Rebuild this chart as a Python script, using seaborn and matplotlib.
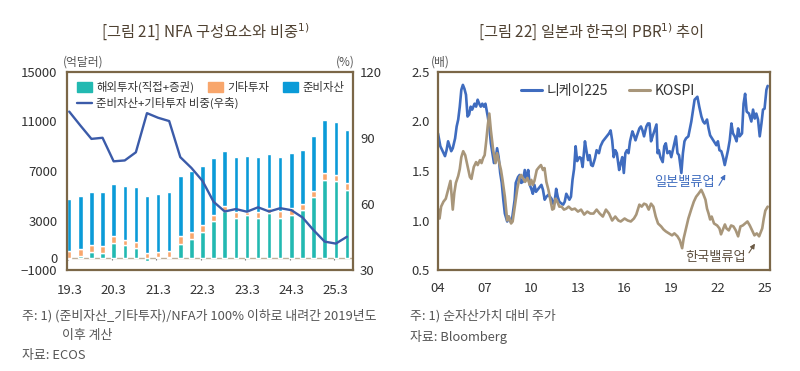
import matplotlib
matplotlib.use("Agg")
import matplotlib.pyplot as plt
import numpy as np
import seaborn as sns
from matplotlib.lines import Line2D
from matplotlib.patches import Patch


# [그림 21] 분기별 NFA 구성요소 (억달러) 와 비중 (%)
quarters = ["19.3", "19.6", "19.9", "19.12", "20.3", "20.6", "20.9", "20.12",
            "21.3", "21.6", "21.9", "21.12", "22.3", "22.6", "22.9", "22.12",
            "23.3", "23.6", "23.9", "23.12", "24.3", "24.6", "24.9", "24.12",
            "25.3", "25.6"]
overseas = [-150, 130, 430, 350, 1160, 1030, 810, -240, 80, 50, 1140, 1510, 2080,
            3000, 3780, 3240, 3430, 3220, 3590, 3190, 3460, 3860, 4890, 6240, 6190, 5490]
other_inv = [500, 570, 620, 600, 600, 400, 460, 350, 380, 520, 590, 600, 540,
             430, 410, 410, 220, 480, 440, 570, 510, 490, 520, 620, 490, 540]
reserves = [4230, 4250, 4250, 4320, 4210, 4330, 4430, 4650, 4650, 4750, 4860, 4860, 4810,
            4600, 4400, 4460, 4570, 4410, 4350, 4380, 4460, 4330, 4430, 4300, 4290, 4320]
share = [102.0, 95.7, 89.6, 90.1, 79.4, 79.8, 83.5, 101.3, 99.2, 97.7, 81.3, 76.4, 70.5,
         61.0, 56.6, 57.7, 56.5, 58.5, 56.6, 58.1, 57.2, 53.9, 48.1, 42.9, 42.0, 45.1]
quarter_ticks = ["19.3", "20.3", "21.3", "22.3", "23.3", "24.3", "25.3"]

# [그림 22] 일본과 한국의 PBR (배)
nikkei_years = [
    2004.0, 2004.15, 2004.3, 2004.45, 2004.55, 2004.65, 2004.75, 2004.85, 2004.95,
    2005.1, 2005.2, 2005.3, 2005.4, 2005.5, 2005.6, 2005.7, 2005.8, 2005.9,
    2006.0, 2006.1, 2006.2, 2006.35, 2006.45, 2006.55, 2006.65, 2006.75, 2006.85, 2006.95,
    2007.05, 2007.2, 2007.3, 2007.4, 2007.5, 2007.6, 2007.7, 2007.8, 2007.9,
    2008.0, 2008.1, 2008.2, 2008.3, 2008.45, 2008.55, 2008.65, 2008.75, 2008.93,
    2009.0, 2009.15, 2009.25, 2009.35, 2009.45, 2009.58, 2009.7, 2009.8, 2009.9,
    2010.0, 2010.1, 2010.2, 2010.3, 2010.4, 2010.55, 2010.65, 2010.75, 2010.86, 2010.97,
    2011.1, 2011.3, 2011.4, 2011.5, 2011.6, 2011.7, 2011.8, 2011.95,
    2012.05, 2012.15, 2012.25, 2012.45, 2012.55, 2012.65, 2012.75, 2012.85, 2012.95,
    2013.1, 2013.2, 2013.3, 2013.45, 2013.55, 2013.65, 2013.75, 2013.85, 2013.95,
    2014.1, 2014.2, 2014.35, 2014.45, 2014.6, 2014.75, 2014.85,
    2015.0, 2015.1, 2015.2, 2015.3, 2015.4, 2015.5, 2015.65, 2015.75, 2015.85, 2015.95,
    2016.05, 2016.15, 2016.25, 2016.35, 2016.5, 2016.6, 2016.7, 2016.8, 2016.95,
    2017.05, 2017.15, 2017.25, 2017.4, 2017.5, 2017.6, 2017.7, 2017.8, 2017.95,
    2018.05, 2018.12, 2018.2, 2018.3, 2018.45, 2018.55, 2018.65, 2018.75, 2018.9,
    2019.0, 2019.1, 2019.2, 2019.3, 2019.4, 2019.5, 2019.65, 2019.75, 2019.85, 2019.95,
    2020.1, 2020.29, 2020.5, 2020.68, 2020.8, 2020.94, 2021.05, 2021.15, 2021.3,
    2021.4, 2021.5, 2021.7, 2021.9, 2022.0, 2022.1, 2022.22, 2022.33, 2022.44,
    2022.55, 2022.65, 2022.76, 2022.87, 2022.97, 2023.08, 2023.2, 2023.3, 2023.4,
    2023.55, 2023.65, 2023.75, 2023.85, 2024.0, 2024.15, 2024.26, 2024.37, 2024.47,
    2024.58, 2024.69, 2024.8, 2024.9, 2025.0, 2025.12, 2025.2,
]
nikkei_pbr = [
    1.88, 1.75, 1.70, 1.65, 1.71, 1.80, 1.75, 1.70, 1.73,
    1.83, 1.95, 2.02, 2.15, 2.32, 2.37, 2.33, 2.27, 2.05,
    2.07, 2.15, 2.12, 2.18, 2.15, 2.22, 2.18, 2.15, 2.18, 2.15,
    2.18, 2.05, 1.95, 1.78, 1.68, 1.58, 1.61, 1.73, 1.64,
    1.48, 1.38, 1.21, 1.07, 0.99, 1.04, 0.99, 1.00, 1.21,
    1.38, 1.44, 1.46, 1.38, 1.39, 1.51, 1.41, 1.51, 1.36,
    1.32, 1.27, 1.36, 1.29, 1.31, 1.34, 1.36, 1.31, 1.21, 1.24,
    1.26, 1.22, 1.17, 1.19, 1.32, 1.24, 1.19, 1.17,
    1.16, 1.19, 1.27, 1.21, 1.24, 1.41, 1.52, 1.75, 1.60,
    1.64, 1.63, 1.54, 1.80, 1.70, 1.61, 1.66, 1.56, 1.55,
    1.63, 1.71, 1.68, 1.75, 1.80, 1.83, 1.85,
    1.88, 1.91, 1.81, 1.64, 1.71, 1.68, 1.51, 1.58, 1.64, 1.48,
    1.68, 1.71, 1.68, 1.80, 1.90, 1.86, 1.81, 1.86, 1.93,
    1.95, 1.91, 1.85, 1.95, 1.98, 1.98, 1.80, 1.85, 1.92,
    1.97, 1.68, 1.71, 1.64, 1.59, 1.75, 1.78, 1.68, 1.70,
    1.64, 1.71, 1.78, 1.85, 1.68, 1.66, 1.48, 1.68, 1.80, 1.83,
    1.85, 2.00, 2.22, 2.25, 2.15, 2.05, 2.00, 1.98, 2.02,
    1.93, 1.86, 1.81, 1.76, 1.80, 1.71, 1.70, 1.64, 1.56,
    1.64, 1.71, 1.81, 1.98, 1.88, 1.85, 1.80, 1.93, 1.85,
    1.88, 2.18, 2.28, 2.10, 2.08, 2.00, 2.12, 2.03, 2.08,
    2.02, 1.85, 1.98, 2.12, 2.13, 2.32, 2.36,
]

kospi_years = [
    2004.0, 2004.1, 2004.2, 2004.35, 2004.5, 2004.65, 2004.8, 2004.95,
    2005.05, 2005.15, 2005.3, 2005.4, 2005.5, 2005.62, 2005.75, 2005.9,
    2006.05, 2006.15, 2006.3, 2006.45, 2006.55, 2006.7, 2006.8, 2006.9,
    2007.0, 2007.1, 2007.2, 2007.3, 2007.4, 2007.55, 2007.7, 2007.8, 2007.95,
    2008.05, 2008.15, 2008.3, 2008.45, 2008.55, 2008.7, 2008.8, 2008.9,
    2009.0, 2009.1, 2009.25, 2009.35, 2009.45, 2009.6, 2009.75, 2009.9,
    2010.0, 2010.1, 2010.2, 2010.35, 2010.5, 2010.62, 2010.75, 2010.85, 2010.97,
    2011.1, 2011.25, 2011.35, 2011.45, 2011.55, 2011.65, 2011.8, 2011.95,
    2012.1, 2012.25, 2012.4, 2012.6, 2012.8, 2013.0, 2013.2, 2013.4, 2013.6, 2013.8,
    2014.0, 2014.2, 2014.4, 2014.6, 2014.8, 2015.0, 2015.2, 2015.4, 2015.6, 2015.75,
    2016.0, 2016.2, 2016.4, 2016.6, 2016.75, 2016.95, 2017.1, 2017.25, 2017.4,
    2017.55, 2017.7, 2017.85, 2018.0, 2018.15, 2018.35, 2018.5, 2018.65, 2018.85,
    2019.05, 2019.2, 2019.4, 2019.55, 2019.7, 2019.8, 2019.95,
    2020.1, 2020.2, 2020.3, 2020.45, 2020.6, 2020.75, 2020.93,
    2021.05, 2021.2, 2021.3, 2021.4, 2021.5, 2021.6, 2021.75, 2021.95,
    2022.1, 2022.2, 2022.3, 2022.45, 2022.55, 2022.7, 2022.85,
    2023.0, 2023.15, 2023.3, 2023.45, 2023.6, 2023.75, 2023.9,
    2024.05, 2024.2, 2024.35, 2024.5, 2024.65, 2024.75, 2024.85, 2024.95,
    2025.05, 2025.2,
]
kospi_pbr = [
    1.12, 1.02, 1.14, 1.19, 1.22, 1.31, 1.40, 1.11,
    1.28, 1.38, 1.45, 1.52, 1.64, 1.70, 1.66, 1.55,
    1.44, 1.42, 1.54, 1.59, 1.56, 1.61, 1.58, 1.63,
    1.66, 1.80, 1.96, 2.08, 1.91, 1.71, 1.58, 1.68, 1.58,
    1.51, 1.41, 1.24, 1.00, 1.04, 0.97, 0.99, 1.10,
    1.21, 1.32, 1.44, 1.46, 1.43, 1.39, 1.43, 1.36,
    1.41, 1.36, 1.40, 1.51, 1.54, 1.56, 1.51, 1.53, 1.39,
    1.31, 1.19, 1.11, 1.12, 1.22, 1.20, 1.14, 1.14,
    1.11, 1.12, 1.14, 1.11, 1.12, 1.09, 1.11, 1.06, 1.09, 1.07,
    1.07, 1.11, 1.07, 1.04, 1.11, 1.07, 1.00, 1.04, 1.00, 0.99,
    1.02, 1.00, 0.99, 1.02, 1.06, 1.16, 1.14, 1.17, 1.16,
    1.11, 1.17, 1.14, 1.04, 0.97, 0.94, 0.91, 0.89, 0.87,
    0.85, 0.87, 0.84, 0.80, 0.72, 0.82, 0.92,
    1.02, 1.07, 1.12, 1.19, 1.24, 1.27, 1.31,
    1.27, 1.21, 1.12, 1.07, 1.01, 1.04, 0.97, 0.95,
    0.92, 0.86, 0.90, 0.96, 0.92, 0.90, 0.95,
    0.94, 0.90, 0.84, 0.94, 0.95, 0.97, 0.99,
    0.95, 0.90, 0.85, 0.87, 0.84, 0.88, 0.92, 1.02,
    1.10, 1.14,
]
year_ticks = [2004, 2007, 2010, 2013, 2016, 2019, 2022, 2025]
year_labels = ["04", "07", "10", "13", "16", "19", "22", "25"]

TEAL = "#22b9b1"
ORANGE = "#f8a66c"
BLUE = "#0a9bd8"
SHARE_LINE = "#3b5ba9"
NIKKEI = "#3f6cbf"
KOSPI = "#a8967a"
FRAME = "#7b6748"
TITLE = "#4f4131"
TEXT = "#333333"
NOTE = "#555555"

sns.set_theme(style="white")
plt.rcParams["font.family"] = ["Noto Sans CJK KR", "DejaVu Sans"]
plt.rcParams["axes.unicode_minus"] = True

fig = plt.figure(figsize=(8, 3.71), dpi=100)
W, H = 800, 371


def px_box(x0, y0, x1, y1):
    """Converte caixa em pixels (origem no topo) para coordenadas da figura."""
    return [x0 / W, (H - y1) / H, (x1 - x0) / W, (y1 - y0) / H]


def style_frame(ax):
    for spine in ax.spines.values():
        spine.set_color(FRAME)
        spine.set_linewidth(1.6)


# ---------------- 그림 21 ----------------
ax1 = fig.add_axes(px_box(67, 72, 353, 270))
idx = np.arange(len(quarters))
overseas_arr = np.array(overseas)
other_arr = np.array(other_inv)
reserve_arr = np.array(reserves)
base = np.clip(overseas_arr, 0, None)
bar_w = 0.4

ax1.axhline(0, color="#bfb09a", linewidth=1.0, zorder=1)
ax1.bar(idx, overseas_arr, width=bar_w, color=TEAL, zorder=2)
ax1.bar(idx, other_arr, width=bar_w, bottom=base, color=ORANGE, zorder=2)
ax1.bar(idx, reserve_arr, width=bar_w, bottom=base + other_arr, color=BLUE, zorder=2)
ax1.vlines(idx[::4] - 0.15, -230, 0, color="#777777", linewidth=0.8, zorder=1)

ax1.set_xlim(-0.2, len(quarters) - 0.45)
ax1.set_ylim(-1000, 15000)
ax1.set_yticks([-1000, 0, 3000, 7000, 11000, 15000])
ax1.set_yticklabels(["\u22121000", "0", "3000", "7000", "11000", "15000"])
ax1.set_xticks(idx[::4])
ax1.set_xticklabels(quarter_ticks)
ax1.tick_params(axis="both", length=0, labelsize=9.5, colors=TEXT)
ax1.tick_params(axis="y", pad=7)
ax1.tick_params(axis="x", pad=10)
style_frame(ax1)

ax2 = ax1.twinx()
sns.lineplot(x=idx, y=share, ax=ax2, color=SHARE_LINE, linewidth=1.7, legend=False, zorder=3)
ax2.set_ylim(30, 120)
ax2.set_yticks([30, 60, 90, 120])
ax2.tick_params(axis="y", length=0, labelsize=9.5, colors=TEXT, pad=5)
ax2.set_ylabel("")
for spine in ax2.spines.values():
    spine.set_visible(False)

fig.text(83 / W, 1 - 62 / H, "(억달러)", ha="center", va="center", fontsize=8.5, color=NOTE)
fig.text(345 / W, 1 - 62 / H, "(%)", ha="center", va="center", fontsize=8.5, color=NOTE)
fig.text(205 / W, 1 - 32 / H, "[그림 21] NFA 구성요소와 비중$^{1)}$", ha="center", va="center",
         fontsize=11, color=TITLE)

bar_handles = [Patch(color=TEAL), Patch(color=ORANGE), Patch(color=BLUE)]
fig.legend(bar_handles, ["해외투자(직접+증권)", "기타투자", "준비자산"], ncol=3,
           loc="center left", bbox_to_anchor=(77 / W, 1 - 87 / H), frameon=False,
           fontsize=8.2, handlelength=1.3, handleheight=0.85, handletextpad=0.4,
           columnspacing=1.2, borderpad=0, borderaxespad=0, labelcolor=TEXT)
fig.legend([Line2D([0], [0], color=SHARE_LINE, linewidth=1.7)], ["준비자산+기타투자 비중(우축)"],
           loc="center left", bbox_to_anchor=(77 / W, 1 - 103 / H), frameon=False,
           fontsize=8.2, handlelength=1.3, handletextpad=0.4, borderpad=0, borderaxespad=0,
           labelcolor=TEXT)

# ---------------- 그림 22 ----------------
ax3 = fig.add_axes(px_box(438, 72, 770, 270))
sns.lineplot(x=nikkei_years, y=nikkei_pbr, ax=ax3, color=NIKKEI, linewidth=1.9, legend=False)
sns.lineplot(x=kospi_years, y=kospi_pbr, ax=ax3, color=KOSPI, linewidth=1.9, legend=False)
ax3.set_xlim(2004, 2025.35)
ax3.set_ylim(0.5, 2.5)
ax3.set_yticks([0.5, 1.0, 1.5, 2.0, 2.5])
ax3.set_yticklabels(["0.5", "1.0", "1.5", "2.0", "2.5"])
ax3.set_xticks(year_ticks)
ax3.set_xticklabels(year_labels)
ax3.tick_params(axis="y", length=0, labelsize=9.5, colors=TEXT, pad=6)
ax3.tick_params(axis="x", direction="out", length=3, width=0.8, color="#777777",
                labelsize=9.5, labelcolor=TEXT, pad=6)
ax3.set_xlabel("")
ax3.set_ylabel("")
style_frame(ax3)

ax3.text(2019.87, 1.38, "일본밸류업", color=NIKKEI, fontsize=9.5, ha="center", va="center")
ax3.annotate("", xy=(2022.57, 1.49), xytext=(2021.98, 1.33),
             arrowprops=dict(arrowstyle="-|>", color=NIKKEI, lw=0.8, mutation_scale=7))
ax3.text(2021.86, 0.63, "한국밸류업", color="#5e5040", fontsize=9.5, ha="center", va="center")
ax3.annotate("", xy=(2024.48, 0.79), xytext=(2023.9, 0.65),
             arrowprops=dict(arrowstyle="-|>", color="#6b5a45", lw=0.8, mutation_scale=7))

line_handles = [Line2D([0], [0], color=NIKKEI, linewidth=2.2),
                Line2D([0], [0], color=KOSPI, linewidth=2.2)]
fig.legend(line_handles, ["니케이225", "KOSPI"], ncol=2, loc="center left",
           bbox_to_anchor=(521 / W, 1 - 91 / H), frameon=False, fontsize=10,
           handlelength=1.5, handletextpad=0.35, columnspacing=1.5, borderpad=0,
           borderaxespad=0, labelcolor=TEXT)

fig.text(440 / W, 1 - 62 / H, "(배)", ha="center", va="center", fontsize=8.5, color=NOTE)
fig.text(591 / W, 1 - 32 / H, "[그림 22] 일본과 한국의 PBR$^{1)}$ 추이", ha="center", va="center",
         fontsize=11, color=TITLE)

# ---------------- 주석 ----------------
fig.text(22 / W, 1 - 316 / H, "주: 1) (준비자산_기타투자)/NFA가 100% 이하로 내려간 2019년도",
         ha="left", va="center", fontsize=9.3, color=NOTE)
fig.text(62 / W, 1 - 336 / H, "이후 계산", ha="left", va="center", fontsize=9.3, color=NOTE)
fig.text(22 / W, 1 - 356 / H, "자료: ECOS", ha="left", va="center", fontsize=9.3, color=NOTE)
fig.text(410 / W, 1 - 316 / H, "주: 1) 순자산가치 대비 주가", ha="left", va="center",
         fontsize=9.3, color=NOTE)
fig.text(410 / W, 1 - 337 / H, "자료: Bloomberg", ha="left", va="center", fontsize=9.3, color=NOTE)

fig.savefig("out.png", dpi=100)
plt.close(fig)
